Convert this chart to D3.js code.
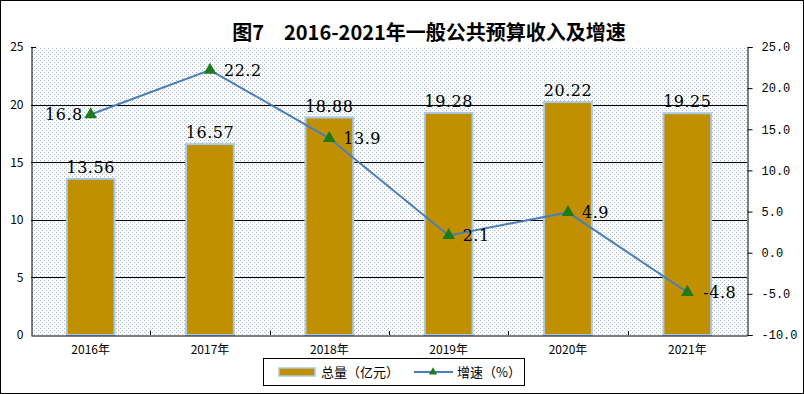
<!DOCTYPE html>
<html>
<head>
<meta charset="utf-8">
<script src="https://cdn.jsdelivr.net/npm/d3@7"></script>
<style>
  body { margin: 0; background: #fff; }
  svg text { fill: #000; }
</style>
</head>
<body>
<svg id="chart" width="804" height="394"></svg>
<script>
const years = ['2016年', '2017年', '2018年', '2019年', '2020年', '2021年'];
const totals = [13.56, 16.57, 18.88, 19.28, 20.22, 19.25];
const growth = [16.8, 22.2, 13.9, 2.1, 4.9, -4.8];
const leftTicks = [0, 5, 10, 15, 20, 25];
const rightTicks = [-10, -5, 0, 5, 10, 15, 20, 25];
const titleText = '图7　2016-2021年一般公共预算收入及增速';

const labelFont = "SimSun, 'DejaVu Serif', serif";
const tickFont = "SimSun, 'Liberation Mono', monospace";
const cjkFont = "'Noto Sans CJK SC', sans-serif";

const svg = d3.select('#chart');
const m = { left: 31, right: 747, top: 47, bottom: 335 };

// outer frame
svg.append('rect').attr('x', 0.5).attr('y', 0.5).attr('width', 803).attr('height', 393)
  .attr('fill', '#fff').attr('stroke', '#000');

// dotted background pattern
const defs = svg.append('defs');
const pat = defs.append('pattern').attr('id', 'dots').attr('patternUnits', 'userSpaceOnUse')
  .attr('width', 4).attr('height', 4);
pat.append('rect').attr('width', 4).attr('height', 4).attr('fill', '#fbfcfd');
pat.append('rect').attr('x', 0).attr('y', 0).attr('width', 1).attr('height', 1).attr('fill', '#aab6c2');
pat.append('rect').attr('x', 2).attr('y', 2).attr('width', 1).attr('height', 1).attr('fill', '#aab6c2');

svg.append('rect').attr('x', m.left).attr('y', m.top)
  .attr('width', m.right - m.left).attr('height', m.bottom - m.top)
  .attr('fill', 'url(#dots)');

const x = d3.scaleBand().domain(years).range([m.left, m.right]).paddingInner(0.6).paddingOuter(0.3);
const yL = d3.scaleLinear().domain([0, 25]).range([m.bottom, m.top]);
const yR = d3.scaleLinear().domain([-10, 25]).range([m.bottom, m.top]);

// gridlines
svg.append('g').selectAll('line').data(leftTicks.filter(d => d > 0 && d < 25)).join('line')
  .attr('x1', m.left).attr('x2', m.right)
  .attr('y1', d => Math.round(yL(d)) + 0.5).attr('y2', d => Math.round(yL(d)) + 0.5)
  .attr('stroke', '#000').attr('stroke-width', 1);

// bars
svg.append('g').selectAll('rect').data(totals).join('rect')
  .attr('x', (d, i) => x(years[i]))
  .attr('y', d => yL(d))
  .attr('width', x.bandwidth())
  .attr('height', d => yL(0) - yL(d))
  .attr('fill', '#c09000')
  .attr('stroke', '#a9c9ea').attr('stroke-width', 2);

svg.append('g').selectAll('text').data(totals).join('text')
  .attr('x', (d, i) => x(years[i]) + x.bandwidth() / 2)
  .attr('y', d => yL(d) - 6)
  .attr('text-anchor', 'middle')
  .attr('font-family', labelFont).attr('font-size', 16).attr('letter-spacing', 0.5)
  .text(d => d.toFixed(2));

// left axis
const axL = svg.append('g').attr('transform', `translate(${m.left + 0.5},0)`)
  .call(d3.axisLeft(yL).tickValues(leftTicks).tickSize(0).tickPadding(8).tickFormat(d3.format('d')));
axL.select('.domain').attr('stroke', '#000');
axL.selectAll('text').attr('font-family', cjkFont).attr('font-size', 12).attr('fill', '#000');
svg.append('line').attr('x1', m.left).attr('x2', m.left + 5).attr('y1', m.top + 0.5).attr('y2', m.top + 0.5).attr('stroke', '#000');

// right axis
const axR = svg.append('g').attr('transform', `translate(${m.right + 0.5},0)`)
  .call(d3.axisRight(yR).tickValues(rightTicks).tickSize(5).tickPadding(9).tickFormat(d3.format('.1f')));
axR.select('.domain').attr('stroke', '#000');
axR.selectAll('.tick line').attr('stroke', '#000');
axR.selectAll('text').attr('font-family', tickFont).attr('font-size', 12).attr('fill', '#000')
  .text(d => d.toFixed(1));

// bottom axis
const axB = svg.append('g').attr('transform', `translate(0,${m.bottom + 0.5})`)
  .call(d3.axisBottom(x).tickSize(0).tickPadding(10));
axB.select('.domain').attr('stroke', '#000');
axB.selectAll('text').attr('font-family', cjkFont).attr('font-size', 12).attr('fill', '#000');
svg.append('g').selectAll('line').data(years.slice(1)).join('line')
  .attr('x1', d => Math.round(x(d) - x.step() * x.paddingInner() / 2) + 0.5)
  .attr('x2', d => Math.round(x(d) - x.step() * x.paddingInner() / 2) + 0.5)
  .attr('y1', m.bottom).attr('y2', m.bottom - 4).attr('stroke', '#000');

// growth line
const cx = i => x(years[i]) + x.bandwidth() / 2;
const line = d3.line().x((d, i) => cx(i)).y(d => yR(d));
svg.append('path').datum(growth).attr('d', line)
  .attr('fill', 'none').attr('stroke', '#4a7ebb').attr('stroke-width', 2);

const tri = d3.symbol().type(d3.symbolTriangle).size(70);
svg.append('g').selectAll('path').data(growth).join('path')
  .attr('transform', (d, i) => `translate(${cx(i)},${yR(d)})`)
  .attr('d', tri).attr('fill', '#1c7c1c');

svg.append('g').selectAll('text').data(growth).join('text')
  .attr('x', (d, i) => i === 0 ? cx(i) - 8 : cx(i) + (d < 0 ? 16 : 14))
  .attr('y', d => yR(d) + 6)
  .attr('text-anchor', (d, i) => i === 0 ? 'end' : 'start')
  .attr('font-family', labelFont).attr('font-size', 16).attr('letter-spacing', 0.5)
  .text(d => d.toFixed(1));

// title
svg.append('text').attr('x', 429).attr('y', 40).attr('text-anchor', 'middle')
  .attr('font-family', cjkFont).attr('font-weight', 'bold').attr('font-size', 20)
  .text(titleText);

// legend
const lg = svg.append('g');
lg.append('rect').attr('x', 263.5).attr('y', 358.5).attr('width', 261).attr('height', 27)
  .attr('fill', '#fff').attr('stroke', '#000');
lg.append('rect').attr('x', 279).attr('y', 368).attr('width', 36).attr('height', 8)
  .attr('fill', '#c09000').attr('stroke', '#a9c9ea').attr('stroke-width', 1.5);
lg.append('text').attr('x', 321).attr('y', 377).attr('font-family', cjkFont).attr('font-size', 13)
  .text('总量（亿元）');
lg.append('line').attr('x1', 414).attr('x2', 453).attr('y1', 372).attr('y2', 372)
  .attr('stroke', '#4a7ebb').attr('stroke-width', 2);
lg.append('path').attr('transform', 'translate(433,372)').attr('d', d3.symbol().type(d3.symbolTriangle).size(30))
  .attr('fill', '#1c7c1c');
lg.append('text').attr('x', 457).attr('y', 377).attr('font-family', cjkFont).attr('font-size', 13)
  .text('增速（%）');
</script>
</body>
</html>
